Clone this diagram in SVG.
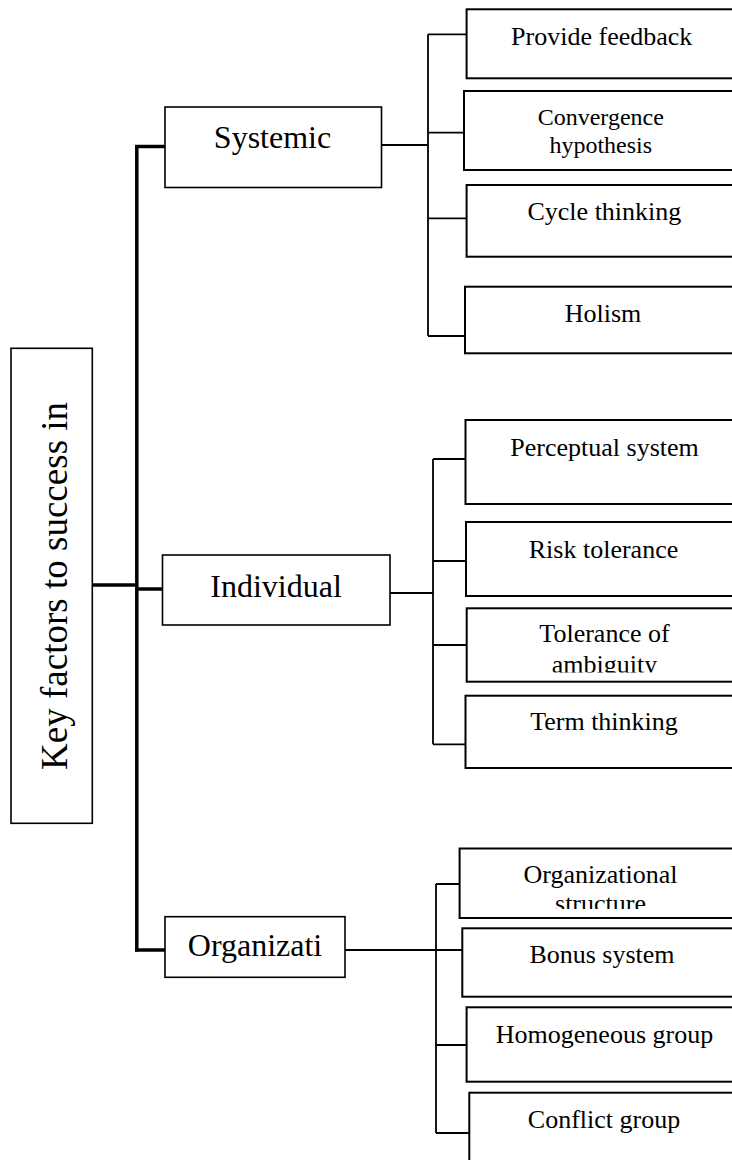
<svg xmlns="http://www.w3.org/2000/svg" width="732" height="1160" viewBox="0 0 732 1160">
<style>
  .main { fill: #fff; stroke: #000; stroke-width: 1.6; }
  .child { fill: #fff; stroke: #000; stroke-width: 2; }
  .thick { stroke: #000; stroke-width: 3.5; fill: none; }
  .thin { stroke: #000; stroke-width: 1.8; fill: none; }
  text { font-family: "Liberation Serif", "Times New Roman", serif; fill: #000; text-anchor: middle; }
  .lbl { font-size: 32px; }
  .sub { font-size: 26px; }
  .sub2 { font-size: 24px; }
</style>
<defs>
  <clipPath id="clipTol"><rect x="460" y="600" width="280" height="72.5"/></clipPath>
  <clipPath id="clipOrg"><rect x="455" y="840" width="285" height="69"/></clipPath>
</defs>
<rect width="732" height="1160" fill="#fff"/>

<g id="connectors">
  <path class="thick" d="M136.8 145 V951.5"/>
  <path class="thick" d="M135 146.5 H165"/>
  <path class="thick" d="M92 585 H137"/>
  <path class="thick" d="M137 589 H162.5"/>
  <path class="thick" d="M135 950 H165"/>
  <!-- Systemic bus -->
  <path class="thin" d="M381.5 145 H428 M428 34.3 V336 M428 34.3 H466.6 M428 132.7 H464 M428 218.3 H466.6 M428 336 H465"/>
  <!-- Individual bus -->
  <path class="thin" d="M390 593 H433 M433 459 V744.3 M433 459 H465.5 M433 561 H466 M433 645 H466.7 M433 744.3 H465.5"/>
  <!-- Organizati bus -->
  <path class="thin" d="M345 950 H462.3 M436 884 V1133 M436 884 H459.6 M436 1045 H466.6 M436 1133 H469.3"/>
</g>

<g id="root">
  <rect class="main" x="11" y="348.3" width="81.3" height="475"/>
  <text class="lbl" font-size="37" transform="translate(66.7 585.9) rotate(-90)" x="0" y="0" textLength="368" lengthAdjust="spacingAndGlyphs" style="font-size:37px">Key factors to success in</text>
</g>

<g id="systemic">
  <rect class="main" x="165" y="107" width="216.5" height="80.5"/>
  <text class="lbl" x="272.5" y="148">Systemic</text>
</g>
<g id="individual">
  <rect class="main" x="162.5" y="555" width="227.5" height="70"/>
  <text class="lbl" x="276" y="597">Individual</text>
</g>
<g id="organizati">
  <rect class="main" x="165" y="916.7" width="180" height="60.6"/>
  <text class="lbl" x="255" y="955.7">Organizati</text>
</g>

<g id="provide-feedback">
  <rect class="child" x="466.6" y="9.3" width="268" height="69"/>
  <text class="sub" x="601.7" y="45">Provide feedback</text>
</g>
<g id="convergence">
  <rect class="child" x="464" y="91" width="270" height="79"/>
  <text class="sub2" x="600.8" y="124.5">Convergence</text>
  <text class="sub2" x="600.8" y="152.5">hypothesis</text>
</g>
<g id="cycle-thinking">
  <rect class="child" x="466.6" y="185" width="268" height="71.7"/>
  <text class="sub" x="604.4" y="220">Cycle thinking</text>
</g>
<g id="holism">
  <rect class="child" x="465" y="286.7" width="270" height="66.6"/>
  <text class="sub" x="603" y="321.7">Holism</text>
</g>

<g id="perceptual-system">
  <rect class="child" x="465.5" y="420" width="269" height="84"/>
  <text class="sub" x="604.6" y="456">Perceptual system</text>
</g>
<g id="risk-tolerance">
  <rect class="child" x="466" y="522" width="268" height="74"/>
  <text class="sub" x="603.5" y="557.7">Risk tolerance</text>
</g>
<g id="tolerance-ambiguity">
  <rect class="child" x="466.7" y="608.3" width="268" height="73.4"/>
  <g clip-path="url(#clipTol)">
    <text class="sub" x="604.5" y="641.5">Tolerance of</text>
    <text class="sub" x="604.5" y="672.5">ambiguity</text>
  </g>
</g>
<g id="term-thinking">
  <rect class="child" x="465.5" y="695.7" width="269" height="72.3"/>
  <text class="sub" x="604" y="730">Term thinking</text>
</g>

<g id="organizational-structure">
  <rect class="child" x="459.6" y="848.5" width="275" height="69.5"/>
  <g clip-path="url(#clipOrg)">
    <text class="sub" x="600.5" y="883">Organizational</text>
    <text class="sub" x="600.5" y="912">structure</text>
  </g>
</g>
<g id="bonus-system">
  <rect class="child" x="462.3" y="928.3" width="272" height="68.4"/>
  <text class="sub" x="602" y="963.3">Bonus system</text>
</g>
<g id="homogeneous-group">
  <rect class="child" x="466.6" y="1007.3" width="268" height="74.4"/>
  <text class="sub" x="604.5" y="1043.3">Homogeneous group</text>
</g>
<g id="conflict-group">
  <rect class="child" x="469.3" y="1092.7" width="266" height="80"/>
  <text class="sub" x="604" y="1128.3">Conflict group</text>
</g>
</svg>
